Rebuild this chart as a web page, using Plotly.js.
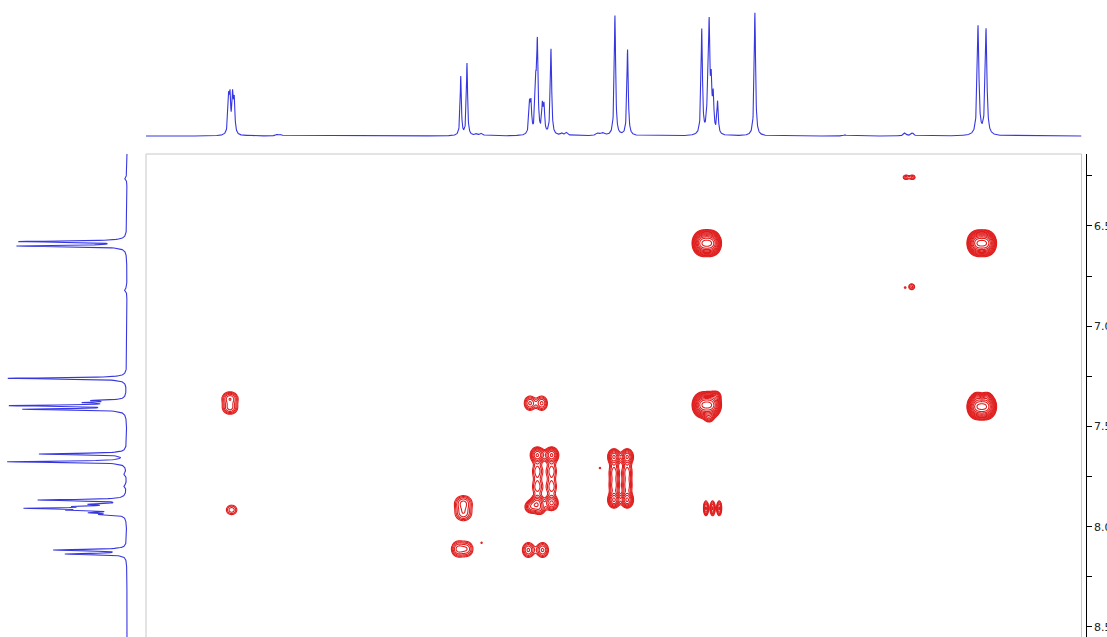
<!DOCTYPE html>
<html><head><meta charset="utf-8">
<script src="https://cdn.plot.ly/plotly-3.0.1.min.js"></script>
<style>html,body{margin:0;padding:0;overflow:hidden;background:#fff}</style>
</head><body>
<div id="chart" style="width:1107px;height:637px"></div>
<script>
// ---- F2 (top) 1D projection: peak positions (ppm), heights, half-widths (ppm)
const topPeakPpm    = [8.588, 8.581, 8.568, 8.560, 8.481, 8.347, 8.327, 7.430, 7.399, 7.351, 7.326,
                       7.087, 7.080, 7.056, 7.048, 7.023, 7.015, 6.980, 6.927, 6.902, 6.746, 6.721,
                       6.661, 6.598, 6.228, 6.198, 6.191, 6.181, 6.171, 6.149, 5.963, 5.514, 5.215,
                       5.178, 4.850, 4.810];
const topPeakHeight = [34, 34, 36, 32, 1.0, 1.5, 1.5, 59, 72, 2, 2.5,
                       28, 28, 45, 88, 26, 26, 86, 2, 3, 2.5, 2.5,
                       120, 86, 105, 40, 100, 45, 35, 32, 123, 1, 3,
                       3, 109, 106];
const topPeakWidth  = [0.004, 0.004, 0.004, 0.004, 0.010, 0.0075, 0.0075, 0.0035, 0.0035, 0.0075, 0.0075,
                       0.004, 0.004, 0.004, 0.004, 0.004, 0.004, 0.004, 0.0075, 0.0075, 0.010, 0.010,
                       0.004, 0.004, 0.004, 0.004, 0.004, 0.004, 0.004, 0.004, 0.004, 0.010, 0.0075,
                       0.0075, 0.005, 0.005];

// ---- F1 (left) 1D projection
const leftPeakPpm    = [6.262, 6.578, 6.600, 6.819, 7.260, 7.371, 7.381, 7.396, 7.414, 7.637, 7.676,
                        7.737, 7.797, 7.867, 7.888, 7.899, 7.908, 7.917, 7.930, 7.939, 8.116, 8.136];
const leftPeakHeight = [2.5, 106, 108, 2.5, 119, 30, 35, 112, 100, 87, 119,
                        2.5, 2.5, 87, 30, 38, 90, 45, 30, 22, 72, 60];
const leftPeakWidth  = [0.0075, 0.0035, 0.0035, 0.0075, 0.0035, 0.0035, 0.0035, 0.0035, 0.0035, 0.0035, 0.0035,
                        0.0075, 0.0075, 0.0035, 0.0035, 0.0035, 0.0035, 0.0035, 0.0035, 0.0035, 0.0035, 0.0035];

// ---- 2D cross peaks: lobes (F2 ppm, F1 ppm, amplitude, sigma F2, sigma F1, group)
const crossF2  = [5.210, 5.177,
                  6.234, 6.214, 6.192, 6.172,
                  4.863, 4.843, 4.820, 4.800,
                  5.181, 5.214,
                  8.581, 8.581,
                  7.085, 7.026,
                  6.234, 6.214, 6.192, 6.172, 6.157, 6.192,
                  4.863, 4.843, 4.820, 4.800, 4.855, 4.805,
                  7.048, 7.048, 7.048, 7.048, 6.977, 6.977, 6.977, 6.977, 7.080, 7.035,
                  6.666, 6.666, 6.666, 6.666, 6.600, 6.600, 6.600, 6.600,
                  6.736,
                  7.417, 7.417,
                  6.207, 6.174, 6.141,
                  7.444, 7.399, 7.326,
                  7.093, 7.022,
                  8.573];
const crossF1  = [6.257, 6.257,
                  6.586, 6.586, 6.586, 6.586,
                  6.586, 6.586, 6.586, 6.586,
                  6.803, 6.807,
                  7.360, 7.408,
                  7.384, 7.384,
                  7.393, 7.393, 7.393, 7.393, 7.348, 7.458,
                  7.401, 7.401, 7.401, 7.401, 7.353, 7.353,
                  7.642, 7.722, 7.802, 7.882, 7.642, 7.722, 7.802, 7.882, 7.901, 7.916,
                  7.651, 7.727, 7.797, 7.867, 7.651, 7.727, 7.797, 7.867,
                  7.707,
                  7.882, 7.936,
                  7.908, 7.908, 7.908,
                  8.111, 8.111, 8.080,
                  8.116, 8.116,
                  7.916];
const crossAmp = [1.8, 1.8,
                  9, 9, 9, 9,
                  9, 9, 9, 9,
                  1.8, 1.25,
                  3.5, 3.0,
                  3, 3,
                  9, 9, 9, 9, 2.5, 2,
                  9, 9, 9, 9, 2.5, 2.5,
                  5, 2, 2, 4, 5, 2, 2, 4, 3, 2,
                  5, 2.5, 2.5, 5, 5, 2.5, 2.5, 5,
                  1.25,
                  3, 2.5,
                  3, 3, 3,
                  3, 2.5, 1.25,
                  3, 3,
                  2];
const crossSigF2 = [0.012, 0.012,
                    0.020, 0.020, 0.020, 0.020,
                    0.020, 0.020, 0.020, 0.020,
                    0.0135, 0.005,
                    0.025, 0.025,
                    0.019, 0.019,
                    0.020, 0.020, 0.020, 0.020, 0.015, 0.015,
                    0.020, 0.020, 0.020, 0.020, 0.0125, 0.0125,
                    0.020, 0.020, 0.020, 0.020, 0.020, 0.020, 0.020, 0.020, 0.020, 0.0175,
                    0.0175, 0.0175, 0.0175, 0.0175, 0.0175, 0.0175, 0.0175, 0.0175,
                    0.005,
                    0.029, 0.029,
                    0.0085, 0.0085, 0.0085,
                    0.022, 0.022, 0.005,
                    0.020, 0.020,
                    0.022];
const crossSigF1 = [0.010, 0.010,
                    0.0275, 0.0275, 0.0275, 0.0275,
                    0.0275, 0.0275, 0.0275, 0.0275,
                    0.0135, 0.005,
                    0.021, 0.021,
                    0.024, 0.024,
                    0.0275, 0.0275, 0.0275, 0.0275, 0.015, 0.015,
                    0.0275, 0.0275, 0.0275, 0.0275, 0.0125, 0.0125,
                    0.0225, 0.030, 0.030, 0.0225, 0.0225, 0.030, 0.030, 0.0225, 0.020, 0.0175,
                    0.0225, 0.030, 0.030, 0.0225, 0.0225, 0.030, 0.030, 0.0225,
                    0.005,
                    0.025, 0.025,
                    0.025, 0.025, 0.025,
                    0.026, 0.026, 0.005,
                    0.025, 0.025,
                    0.020];
const crossGroup = [1, 1,
                    2, 2, 2, 2,
                    3, 3, 3, 3,
                    4, 4,
                    5, 5,
                    6, 6,
                    7, 7, 7, 7, 7, 7,
                    8, 8, 8, 8, 8, 8,
                    9, 9, 9, 9, 9, 9, 9, 9, 9, 9,
                    10, 10, 10, 10, 10, 10, 10, 10,
                    11,
                    12, 12,
                    13, 13, 13,
                    14, 14, 14,
                    15, 15,
                    16];

// ---- F1 axis ticks
const f1TickVals = [6.5, 7.0, 7.5, 8.0, 8.5];
const f1TickText = ['6.5', '7.0', '7.5', '8.0', '8.5'];

// ---- helpers
function lorentz(p, pos, h, w) {
  let s = 0;
  for (let i = 0; i < pos.length; i++) { const d = (p - pos[i]) / w[i]; s += h[i] / (1 + d * d); }
  return s;
}
const F2_LEFT = 9.0, F2_RIGHT = 4.334;   // axis range of F2 (ppm)
const F1_TOP = 6.141, F1_BOTTOM = 8.550; // axis range of F1 (ppm)

const topX = [], topY = [];
{
  const step = 0.001, n = Math.round((F2_LEFT - F2_RIGHT) / step);
  for (let i = 0; i <= n; i++) { const p = F2_RIGHT + i * step; topX.push(p); topY.push(lorentz(p, topPeakPpm, topPeakHeight, topPeakWidth)); }
}
const leftX = [], leftY = [];
{
  const step = 0.001, n = Math.round((F1_BOTTOM - F1_TOP) / step);
  for (let i = 0; i <= n; i++) { const p = F1_TOP + i * step; leftY.push(p); leftX.push(lorentz(p, leftPeakPpm, leftPeakHeight, leftPeakWidth)); }
}

// contour traces, one local grid per group (geometric contour levels)
const LEVEL_FACTOR = 1.3;
const traces = [];
const groups = [...new Set(crossGroup)];
groups.forEach(g => {
  const idx = crossGroup.map((v, i) => v === g ? i : -1).filter(i => i >= 0);
  let x0 = Infinity, x1 = -Infinity, y0 = Infinity, y1 = -Infinity;
  idx.forEach(i => {
    x0 = Math.min(x0, crossF2[i] - 4.5 * crossSigF2[i]); x1 = Math.max(x1, crossF2[i] + 4.5 * crossSigF2[i]);
    y0 = Math.min(y0, crossF1[i] - 4.5 * crossSigF1[i]); y1 = Math.max(y1, crossF1[i] + 4.5 * crossSigF1[i]);
  });
  const step = 0.0012;
  const nx = Math.ceil((x1 - x0) / step), ny = Math.ceil((y1 - y0) / step);
  const gx = [], gy = [], z = [];
  for (let i = 0; i <= nx; i++) gx.push(x0 + i * step);
  for (let j = 0; j <= ny; j++) gy.push(y0 + j * step);
  for (let j = 0; j <= ny; j++) {
    const row = [];
    for (let i = 0; i <= nx; i++) {
      let s = 1e-12;
      idx.forEach(k => {
        const dx = (gx[i] - crossF2[k]) / crossSigF2[k], dy = (gy[j] - crossF1[k]) / crossSigF1[k];
        s += crossAmp[k] * Math.exp(-0.5 * (dx * dx + dy * dy));
      });
      row.push(Math.log(s) / Math.log(LEVEL_FACTOR));
    }
    z.push(row);
  }
  traces.push({
    type: 'contour', x: gx, y: gy, z: z, xaxis: 'x', yaxis: 'y',
    autocontour: false,
    contours: {start: 0, end: 16, size: 1, coloring: 'none', showlines: true},
    line: {color: '#e01e1e', width: 1.1, smoothing: 0.8},
    showscale: false, hoverinfo: 'skip'
  });
});

traces.push({type: 'scatter', mode: 'lines', x: topX, y: topY, xaxis: 'x', yaxis: 'y2',
  line: {color: 'rgb(55,55,225)', width: 1.1}, hoverinfo: 'skip'});
traces.push({type: 'scatter', mode: 'lines', x: leftX, y: leftY, xaxis: 'x2', yaxis: 'y',
  line: {color: 'rgb(55,55,225)', width: 1.1}, hoverinfo: 'skip'});

const W = 1107, H = 637;
const frameL = 146 / W, frameR = 1081.5 / W, frameTop = (H - 154) / H;
const layout = {
  width: W, height: H, margin: {l: 0, r: 0, t: 0, b: 0},
  paper_bgcolor: '#fff', plot_bgcolor: 'rgba(0,0,0,0)', showlegend: false, hovermode: false,
  xaxis: {domain: [frameL, frameR], range: [F2_LEFT, F2_RIGHT], visible: false, anchor: 'y'},
  yaxis: {domain: [0, frameTop], range: [F1_BOTTOM, F1_TOP], side: 'right', anchor: 'free',
    position: 1085.7 / W, showline: true, linecolor: '#000', linewidth: 1, mirror: false,
    ticks: 'outside', ticklen: 5, tickwidth: 1, tickcolor: '#000',
    tickmode: 'array', tickvals: f1TickVals, ticktext: f1TickText,
    minor: {dtick: 0.25, tick0: 0, ticks: 'outside', ticklen: 5, tickwidth: 1, tickcolor: '#000', showgrid: false},
    showgrid: false, zeroline: false, automargin: false,
    tickfont: {family: 'DejaVu Sans, sans-serif', size: 11, color: '#222'}},
  yaxis2: {domain: [(H - 146) / H, 1], range: [-10, 136], visible: false, anchor: 'x'},
  xaxis2: {domain: [0, frameL], range: [127, -19], visible: false, anchor: 'y'},
  shapes: [
    {type: 'line', xref: 'paper', yref: 'paper', x0: frameL, x1: frameR, y0: frameTop, y1: frameTop, line: {color: '#c8c8c8', width: 1}},
    {type: 'line', xref: 'paper', yref: 'paper', x0: frameL, x1: frameL, y0: 0, y1: frameTop, line: {color: '#c8c8c8', width: 1}},
    {type: 'line', xref: 'paper', yref: 'paper', x0: frameR, x1: frameR, y0: 0, y1: frameTop, line: {color: '#c8c8c8', width: 1}}
  ]
};
Plotly.newPlot('chart', traces, layout, {displayModeBar: false, staticPlot: true});
</script>
</body></html>
